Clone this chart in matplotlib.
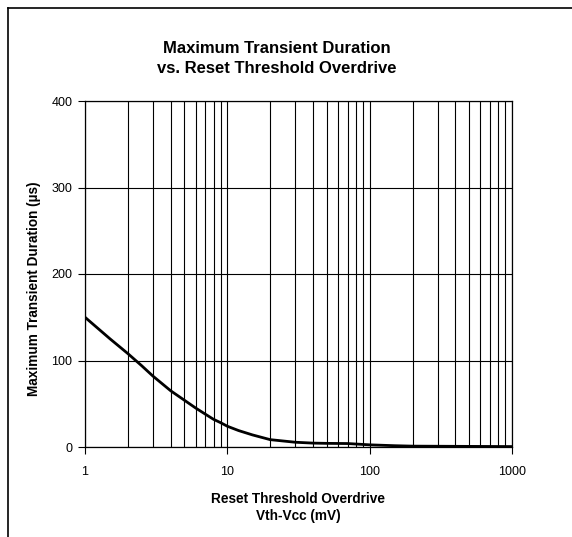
import matplotlib
matplotlib.use('Agg')
import matplotlib.pyplot as plt
import numpy as np
from matplotlib.lines import Line2D
from matplotlib.ticker import LogLocator, NullFormatter, FixedLocator

plt.rcParams['font.family'] = ['Liberation Sans', 'DejaVu Sans']

# Data
overdrive_mv = [1, 1.5, 2, 2.5, 3, 4, 5, 6, 7, 8, 9, 10, 12, 15, 20, 30, 40, 50, 70, 100, 150, 200, 500, 1000]
duration_us = [150, 125, 108, 94, 82, 65, 54, 45, 38, 32, 28, 24, 19, 14, 8.5, 5.5, 4.5, 4.2, 4, 2.5, 1.5, 1, 0.7, 0.5]

x_ticks = [1, 10, 100, 1000]
x_tick_labels = ['1', '10', '100', '1000']
y_ticks = [0, 100, 200, 300, 400]

W, H = 572, 537
fig = plt.figure(figsize=(W / 100, H / 100), dpi=100)
ax = fig.add_axes([85 / W, 1 - 447 / H, 427 / W, 346 / H])

ax.plot(overdrive_mv, duration_us, color='black', lw=2.0, zorder=3)

ax.set_xscale('log')
ax.set_xlim(1, 1000)
ax.set_ylim(0, 400)

ax.xaxis.set_major_locator(FixedLocator(x_ticks))
ax.set_xticklabels(x_tick_labels)
ax.xaxis.set_minor_locator(LogLocator(base=10, subs=np.arange(2, 10)))
ax.xaxis.set_minor_formatter(NullFormatter())
ax.set_yticks(y_ticks)

ax.grid(True, which='both', axis='x', color='black', lw=0.8)
ax.grid(True, which='major', axis='y', color='black', lw=0.8)

ax.tick_params(axis='both', which='major', direction='out', length=5, width=0.8,
               labelsize=9, pad=4)
ax.tick_params(axis='x', which='minor', length=0)
ax.tick_params(axis='x', which='major', pad=9)
for s in ax.spines.values():
    s.set_linewidth(0.9)
    s.set_color('black')

# axis labels placed by hand to match the original layout
fig.text(298 / W, 1 - 503 / H, 'Reset Threshold Overdrive', ha='center', va='baseline',
         fontsize=9.8, fontweight='bold')
fig.text(298 / W, 1 - 520 / H, 'Vth-Vcc (mV)', ha='center', va='baseline',
         fontsize=9.8, fontweight='bold')
fig.text(34 / W, 1 - 289 / H, 'Maximum Transient Duration (µs)', ha='center', va='center',
         rotation=90, fontsize=9.8, fontweight='bold')

# title
fig.text(277 / W, 1 - 53 / H, 'Maximum Transient Duration', ha='center', va='baseline',
         fontsize=12, fontweight='bold')
fig.text(277 / W, 1 - 73 / H, 'vs. Reset Threshold Overdrive', ha='center', va='baseline',
         fontsize=12, fontweight='bold')

# outer frame (left and top edges visible)
fig.add_artist(Line2D([8 / W, 8 / W], [0, 1 - 8 / H], transform=fig.transFigure,
                      color='black', lw=1.2))
fig.add_artist(Line2D([8 / W, 1], [1 - 8 / H, 1 - 8 / H], transform=fig.transFigure,
                      color='black', lw=1.2))

fig.savefig('out.png', dpi=100)
